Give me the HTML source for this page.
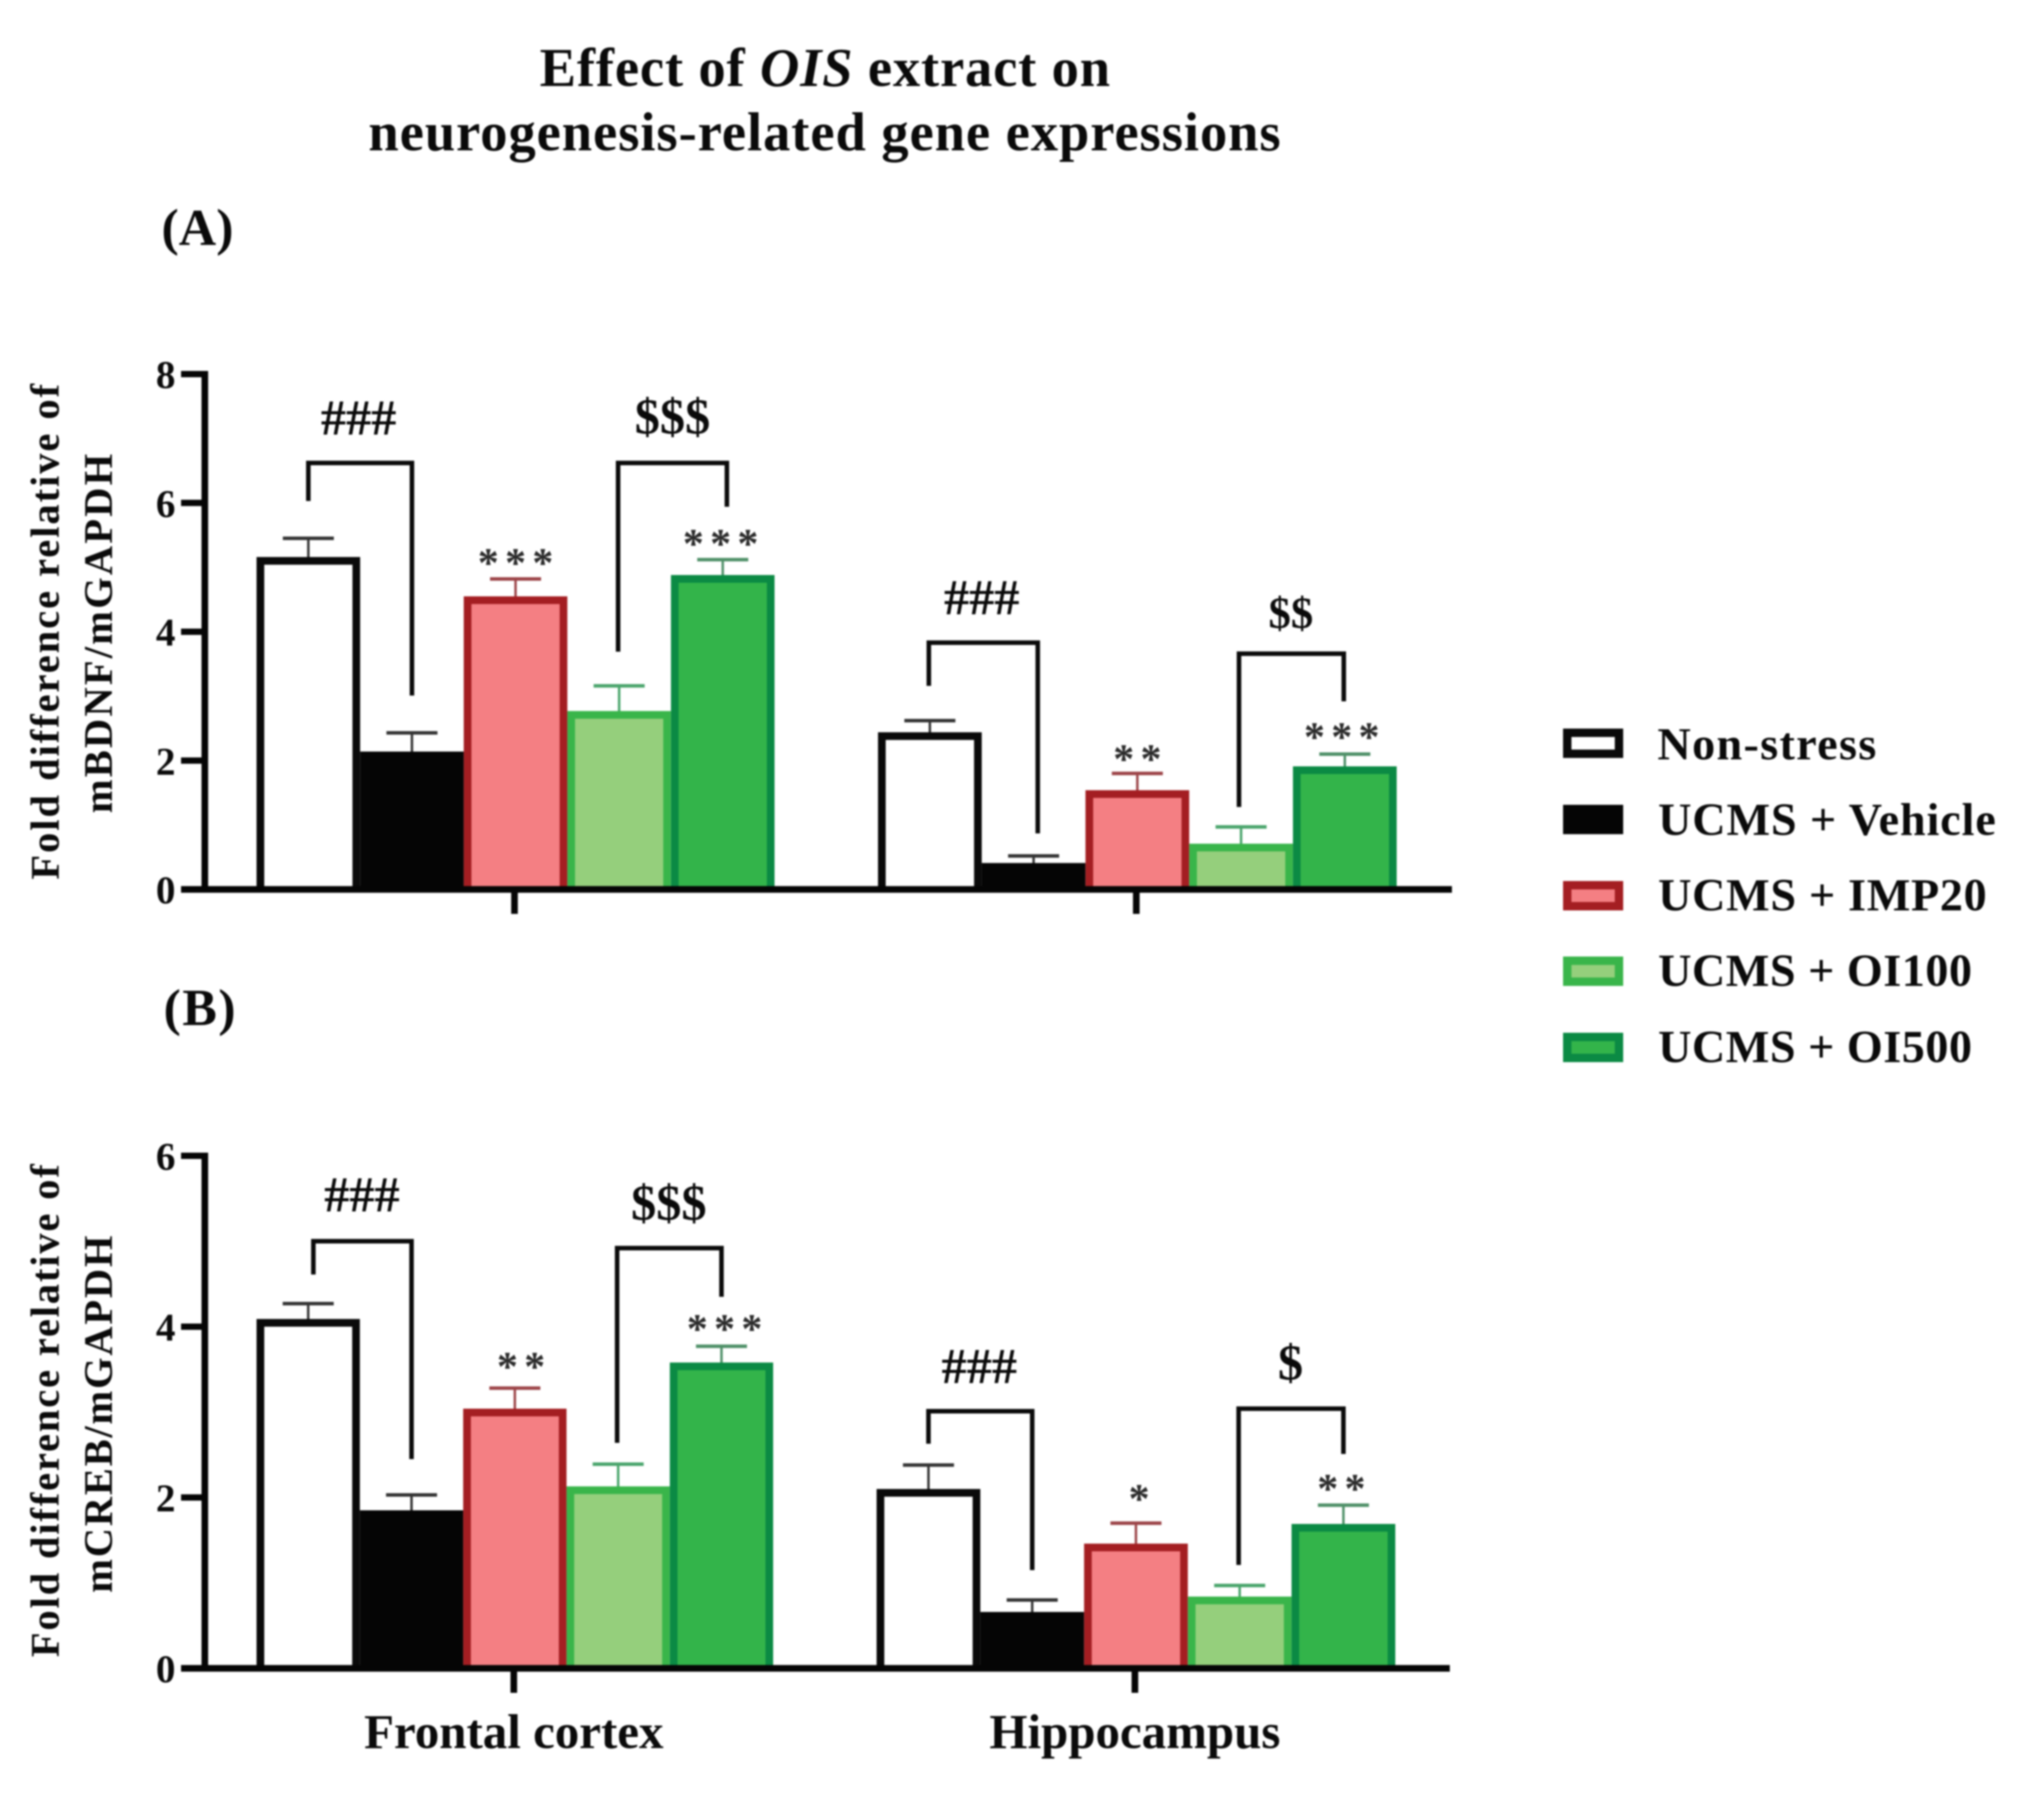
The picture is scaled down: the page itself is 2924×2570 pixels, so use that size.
<!DOCTYPE html>
<html lang="en">
<head>
<meta charset="utf-8">
<title>Effect of OIS extract on neurogenesis-related gene expressions</title>
<style>
html,body{margin:0;padding:0;background:#fff;width:2924px;height:2570px;overflow:hidden}
svg{display:block;filter:blur(1.2px)}
text{font-family:"Liberation Serif",serif;font-weight:bold;fill:#0a0a0a}
</style>
</head>
<body>
<svg id="chart" xmlns="http://www.w3.org/2000/svg" width="2924" height="2570" viewBox="0 0 2924 2570">
  <rect x="0" y="0" width="2924" height="2570" fill="#fff"/>
  <text x="772" y="123" font-size="78" textLength="816" lengthAdjust="spacing">Effect of <tspan font-style="italic">OIS</tspan> extract on</text>
  <text x="527" y="215" font-size="78" textLength="1305" lengthAdjust="spacing">neurogenesis-related gene expressions</text>
  <text x="231" y="350" font-size="74" textLength="103" lengthAdjust="spacing">(A)</text>
  <text x="234" y="1466" font-size="74" textLength="103" lengthAdjust="spacing">(B)</text>

  <text transform="translate(84,1258) rotate(-90)" font-size="58" textLength="709" lengthAdjust="spacing">Fold difference relative of</text>
  <text transform="translate(160,1163) rotate(-90)" font-size="58" textLength="514" lengthAdjust="spacing">mBDNF/mGAPDH</text>
  <text transform="translate(84,2370) rotate(-90)" font-size="58" textLength="705" lengthAdjust="spacing">Fold difference relative of</text>
  <text transform="translate(160,2278) rotate(-90)" font-size="58" textLength="511" lengthAdjust="spacing">mCREB/mGAPDH</text>

  <g>
    <g>
      <rect x="2242" y="1048" width="74" height="30" fill="#fff" stroke="#0a0a0a" stroke-width="12"/>
      <text x="2371" y="1086" font-size="66" textLength="313" lengthAdjust="spacing">Non-stress</text>
    </g>
    <g>
      <rect x="2242" y="1157" width="74" height="30" fill="#050505" stroke="#050505" stroke-width="12"/>
      <text x="2372" y="1194" font-size="66" textLength="483" lengthAdjust="spacing">UCMS + Vehicle</text>
    </g>
    <g>
      <rect x="2242" y="1266" width="74" height="30" fill="#f47f83" stroke="#a41e22" stroke-width="12"/>
      <text x="2372" y="1302" font-size="66" textLength="470" lengthAdjust="spacing">UCMS + IMP20</text>
    </g>
    <g>
      <rect x="2242" y="1374" width="74" height="30" fill="#95cf7c" stroke="#39b54a" stroke-width="12"/>
      <text x="2372" y="1410" font-size="66" textLength="449" lengthAdjust="spacing">UCMS + OI100</text>
    </g>
    <g>
      <rect x="2242" y="1483" width="74" height="30" fill="#33b44a" stroke="#0b8a44" stroke-width="12"/>
      <text x="2372" y="1519" font-size="66" textLength="449" lengthAdjust="spacing">UCMS + OI500</text>
    </g>
  </g>
</svg>
<script>
// ---- data ----
const categories = ['Frontal cortex', 'Hippocampus'];
const seriesNames = ['non-stress', 'ucms-vehicle', 'ucms-imp20', 'ucms-oi100', 'ucms-oi500'];

const panelATicks = [0, 2, 4, 6, 8];
const panelAMeans = [
  [5.16, 2.14, 4.55, 2.77, 4.88],
  [2.44, 0.41, 1.54, 0.71, 1.91]
];
const panelAUpper = [
  [5.45, 2.43, 4.82, 3.16, 5.12],
  [2.62, 0.52, 1.80, 0.97, 2.10]
];
// [group, from series, to series, top value, from-leg end value, to-leg end value]
const panelABrackets = [
  [0, 0, 1, 6.62, 6.03, 3.01],
  [0, 2.99, 4.04, 6.62, 3.69, 5.94],
  [1, -0.01, 1.04, 3.83, 3.16, 0.87],
  [1, 2.98, 3.99, 3.66, 1.28, 2.92]
];
// [symbols, group, series position, baseline value]
const panelAMarks = [
  ['###', 0, 0.485, 7.06],
  ['$$$', 0, 3.515, 7.08],
  ['***', 0, 2, 4.85],
  ['***', 0, 3.98, 5.15],
  ['###', 1, 0.5, 4.27],
  ['$$', 1, 3.48, 4.06],
  ['**', 1, 2, 1.81],
  ['***', 1, 3.97, 2.15]
];

const panelBTicks = [0, 2, 4, 6];
const panelBMeans = [
  [4.09, 1.85, 3.04, 2.13, 3.58],
  [2.10, 0.66, 1.46, 0.84, 1.69]
];
const panelBUpper = [
  [4.27, 2.03, 3.28, 2.39, 3.77],
  [2.38, 0.80, 1.70, 0.97, 1.91]
];
const panelBBrackets = [
  [0, 0.05, 1, 5.00, 4.61, 2.45],
  [0, 2.99, 4, 4.92, 2.64, 4.35],
  [1, 0, 1, 3.01, 2.63, 1.15],
  [1, 2.99, 4, 3.04, 1.21, 2.51]
];
const panelBMarks = [
  ['###', 0, 0.52, 5.35],
  ['$$$', 0, 3.49, 5.25],
  ['**', 0, 2.06, 3.37],
  ['***', 0, 4.03, 3.81],
  ['###', 1, 0.49, 3.34],
  ['$', 1, 3.49, 3.38],
  ['*', 1, 2.03, 1.82],
  ['**', 1, 3.98, 1.94]
];

// ---- styling & layout ----
const strokeColors = ['#0a0a0a', '#050505', '#a41e22', '#39b54a', '#0b8a44'];
const fillColors = ['#ffffff', '#050505', '#f47f83', '#95cf7c', '#33b44a'];
const errorColors = ['#333333', '#333333', '#9c4448', '#4aa56c', '#4f9068'];
const SVGNS = 'http://www.w3.org/2000/svg';
const svg = document.getElementById('chart');

function node(tag, parent) {
  const el = document.createElementNS(SVGNS, tag);
  parent.appendChild(el);
  return el;
}
function set(el, props) {
  for (const k in props) el.setAttribute(k, props[k]);
  return el;
}

function drawPanel(cfg) {
  const yScale = v => cfg.y0 - (cfg.y0 - cfg.yTop) * v / cfg.vmax;
  const xScale = (g, s) => cfg.centers[g] + cfg.pitches[g] * (s - 2);
  const p = cfg.id;

  const root = node('g', svg);
  
  

  // error bars first, bars drawn over their stem bases
  cfg.upper.forEach((row, g) => row.forEach((u, s) => {
    const cx = xScale(g, s);
    const half = 36.5;
    const stem = node('line', root);
    
    
    set(stem, {x1: cx, x2: cx, y1: yScale(u), y2: yScale(cfg.means[g][s]) + 6, stroke: errorColors[s], 'stroke-width': 3.5});
    const cap = node('line', root);
    
    
    set(cap, {x1: cx - half, x2: cx + half, y1: yScale(u), y2: yScale(u), stroke: errorColors[s], 'stroke-width': 5});
  }));

  cfg.means.forEach((row, g) => row.forEach((m, s) => {
    const sw = 11;
    const left = xScale(g, s) - cfg.pitches[g] / 2 + sw / 2;
    const right = left + cfg.pitches[g] - sw;
    const top = yScale(m) + sw / 2;
    const bar = node('path', root);
    
    
    set(bar, {
      d: 'M' + left + ' ' + cfg.y0 + 'V' + top + 'H' + right + 'V' + cfg.y0,
      fill: fillColors[s], stroke: strokeColors[s], 'stroke-width': sw
    });
  }));

  // axes
  const yAxis = node('line', root);
  
  
  set(yAxis, {x1: 293, x2: 293, y1: cfg.yTop - 4.5, y2: cfg.y0, stroke: '#050505', 'stroke-width': 9.5});

  const xAxis = node('line', root);
  
  
  set(xAxis, {x1: 259, x2: cfg.xEnd, y1: cfg.y0, y2: cfg.y0, stroke: '#050505', 'stroke-width': 9.5});

  cfg.ticks.forEach(t => {
    const tick = node('line', root);
    
    
    set(tick, {x1: 259, x2: 293, y1: yScale(t), y2: yScale(t), stroke: '#050505', 'stroke-width': 9});
    const label = node('text', root);
    
    
    set(label, {x: 251, y: yScale(t) + 20, 'font-size': 56, 'text-anchor': 'end'});
    label.textContent = t;
  });

  categories.forEach((c, g) => {
    const tick = node('line', root);
    
    
    set(tick, {x1: cfg.centers[g] - 1.5, x2: cfg.centers[g] - 1.5, y1: cfg.y0, y2: cfg.y0 + 35, stroke: '#050505', 'stroke-width': 9.5});
    if (cfg.showCategories) {
      const label = node('text', root);
      
      
      set(label, {x: cfg.centers[g] - 1.5, y: 2500, 'font-size': 70, 'text-anchor': 'middle'});
      label.textContent = c;
    }
  });

  cfg.brackets.forEach((b, i) => {
    const xa = xScale(b[0], b[1]);
    const xb = xScale(b[0], b[2]);
    const path = node('path', root);
    
    
    set(path, {
      d: 'M' + xa + ' ' + yScale(b[4]) + 'V' + yScale(b[3]) + 'H' + xb + 'V' + yScale(b[5]),
      fill: 'none', stroke: '#0a0a0a', 'stroke-width': 6.5
    });
  });

  cfg.marks.forEach((m, i) => {
    const kind = m[0].charAt(0);
    const isStar = kind === '*';
    const spacing = isStar ? 9 : 0;
    const size = isStar ? 60 : (m[0] === '$$' ? 64 : 72);
    const label = node('text', root);
    
    
    set(label, {
      x: xScale(m[1], m[2]) + spacing / 2, y: yScale(m[3]),
      'font-size': size, 'text-anchor': 'middle', 'letter-spacing': spacing
    });
    if (isStar) label.style.fill = '#2a2a2a';
    label.textContent = m[0];
  });
}

drawPanel({
  id: 'a', y0: 1272, yTop: 535, vmax: 8, xEnd: 2077,
  centers: [737.5, 1627], pitches: [148.2, 148.4],
  ticks: panelATicks, means: panelAMeans, upper: panelAUpper,
  brackets: panelABrackets, marks: panelAMarks, showCategories: false
});
drawPanel({
  id: 'b', y0: 2386, yTop: 1653, vmax: 6, xEnd: 2074,
  centers: [736.5, 1625], pitches: [147.8, 148.4],
  ticks: panelBTicks, means: panelBMeans, upper: panelBUpper,
  brackets: panelBBrackets, marks: panelBMarks, showCategories: true
});
</script>
</body>
</html>
